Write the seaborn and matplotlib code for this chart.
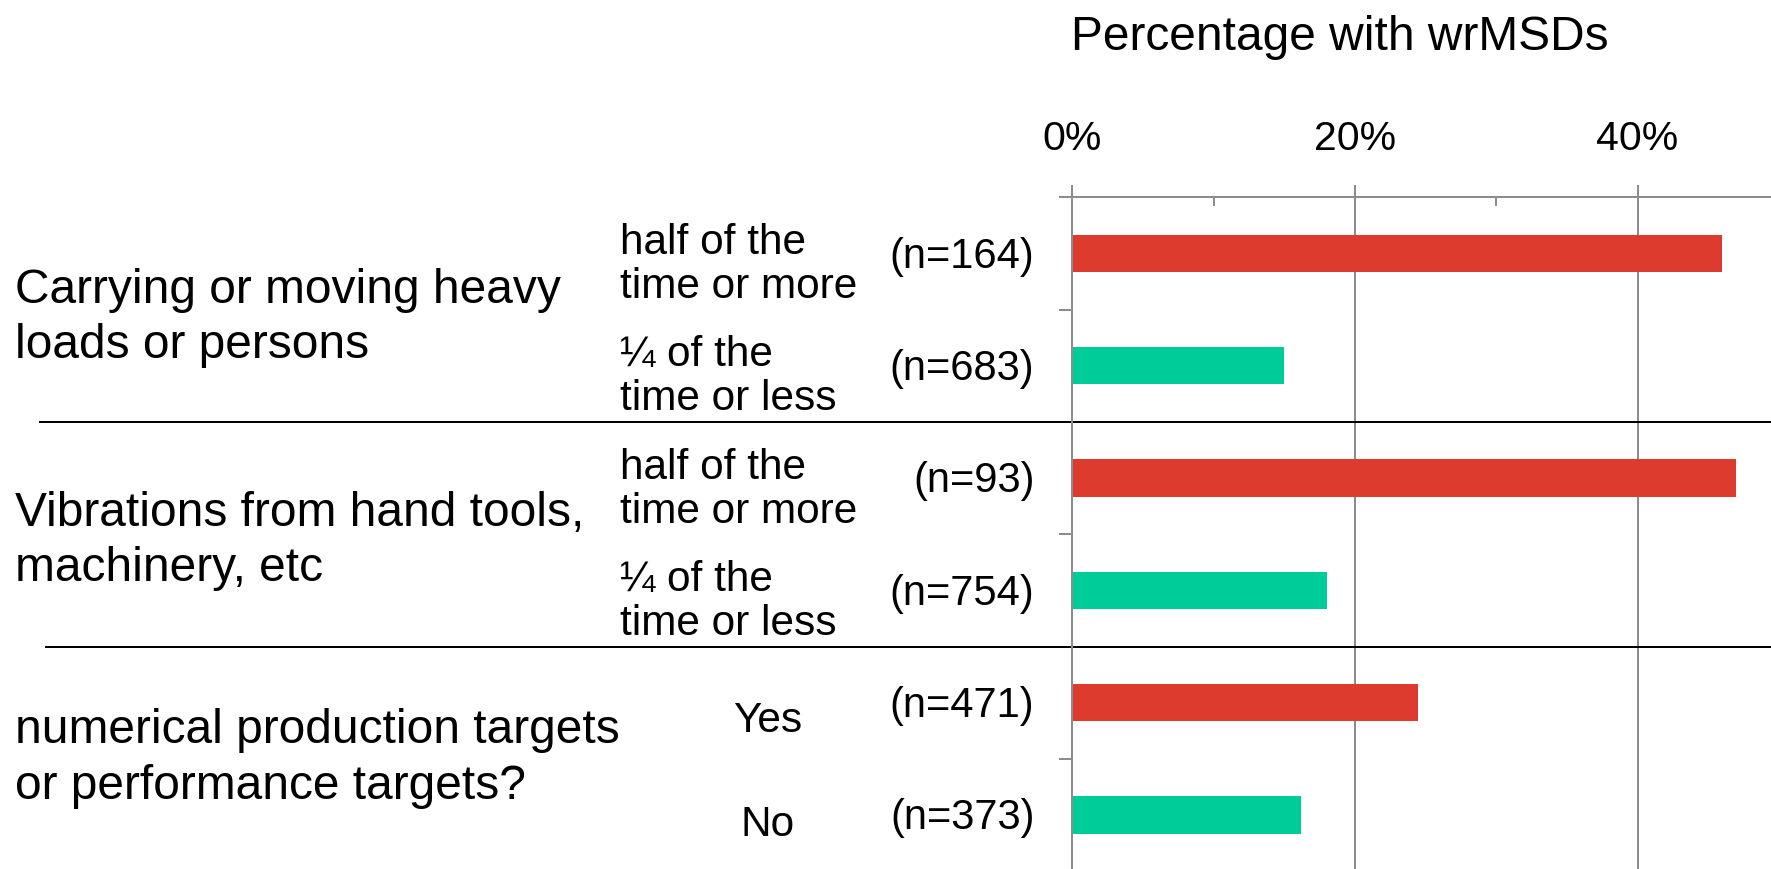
import numpy as np
import pandas as pd
import matplotlib
matplotlib.use("Agg")
import matplotlib.pyplot as plt
import matplotlib.transforms as mtransforms
import seaborn as sns

# ---------------- data ----------------
groups = ["Carrying or moving heavy\nloads or persons",
          "Vibrations from hand tools,\nmachinery, etc",
          "numerical production targets\nor performance targets?"]
sub_labels = ["half of the\ntime or more", "\u00bc of the\ntime or less",
              "half of the\ntime or more", "\u00bc of the\ntime or less",
              "Yes", "No"]
n_labels = ["(n=164)", "(n=683)", "(n=93)", "(n=754)", "(n=471)", "(n=373)"]
pct = [46.0, 15.0, 47.0, 18.0, 24.5, 16.2]
level = ["high", "low", "high", "low", "high", "low"]
xticks = [0, 20, 40]
xtick_labels = ["0%", "20%", "40%"]
title = "Percentage with wrMSDs"

RED = "#DE3B2F"
GREEN = "#00CC99"
GRID = "#8C8C8C"

sns.set_theme(style="white")
plt.rcParams["font.family"] = ["Liberation Sans", "DejaVu Sans"]
plt.rcParams["text.color"] = "black"
plt.rcParams["xtick.labelcolor"] = "black"

df = pd.DataFrame({"row": n_labels, "pct": pct, "level": level})

W, H = 1771, 870
fig = plt.figure(figsize=(W / 100, H / 100), dpi=100)
ax = fig.add_axes([1072.3 / W, -2.2 / H, 706.5 / W, 674.0 / H])

sns.barplot(data=df, x="pct", y="row", hue="level", orient="h",
            palette={"high": RED, "low": GREEN}, dodge=False, width=0.333,
            saturation=1, legend=False, linewidth=0, ax=ax)

ax.set_xlim(0, 50)
ax.set_ylim(5.5, -0.5)
ax.set_xlabel("")
ax.set_ylabel("")

# x axis on top
ax.xaxis.tick_top()
ax.set_xticks(xticks)
ax.set_xticklabels(xtick_labels, fontsize=29.5, color="black")
ax.set_xticks([10, 30], minor=True)
ax.tick_params(axis="x", which="major", direction="out", length=8.6, width=1.44,
               color=GRID, pad=20, top=True, bottom=False,
               labeltop=True, labelbottom=False, labelcolor="black")
ax.tick_params(axis="x", which="minor", direction="in", length=6.5, width=1.44,
               color=GRID, top=True, bottom=False)

# y ticks at category boundaries
ax.set_yticks(np.arange(-0.5, 6, 1))
ax.set_yticklabels([])
ax.tick_params(axis="y", which="major", direction="out", length=9.4, width=1.44,
               color=GRID, left=True)

ax.grid(axis="x", which="major", color=GRID, lw=1.44)
ax.set_axisbelow(True)

for s in ["right", "bottom"]:
    ax.spines[s].set_visible(False)
for s in ["top", "left"]:
    ax.spines[s].set_color(GRID)
    ax.spines[s].set_linewidth(1.44)

trans = mtransforms.blended_transform_factory(fig.transFigure, ax.transData)

# title
fig.text(1340 / W, 1 - 50.5 / H, title, ha="center", va="baseline",
         fontsize=34.5, color="black")

# group labels
g_off = [0.065, 0.05, -0.01]
for gi, g in enumerate(groups):
    ax.text(15 / W, 2 * gi + 0.5 + g_off[gi], g, transform=trans, ha="left",
            va="center", fontsize=34.5, linespacing=1.3, color="black")

# sub labels
for i, s in enumerate(sub_labels):
    if i < 4:
        ax.text(620 / W, i + 0.095, s, transform=trans, ha="left", va="center",
                fontsize=30.5, linespacing=1.13, color="black")
    else:
        off = 0.155 if i == 4 else 0.08
        ax.text(768 / W, i + off, s, transform=trans, ha="center", va="center",
                fontsize=30.5, color="black")

# n labels
for i, n in enumerate(n_labels):
    ax.text(1034.5 / W, i + 0.02, n, transform=trans, ha="right", va="center",
            fontsize=30, color="black")

# separators
ax.plot([39 / W, 1], [1.5, 1.5], transform=trans, color="black", lw=1.44,
        clip_on=False, solid_capstyle="butt")
ax.plot([45 / W, 1], [3.5, 3.5], transform=trans, color="black", lw=1.44,
        clip_on=False, solid_capstyle="butt")

fig.savefig("out.png", dpi=100)
